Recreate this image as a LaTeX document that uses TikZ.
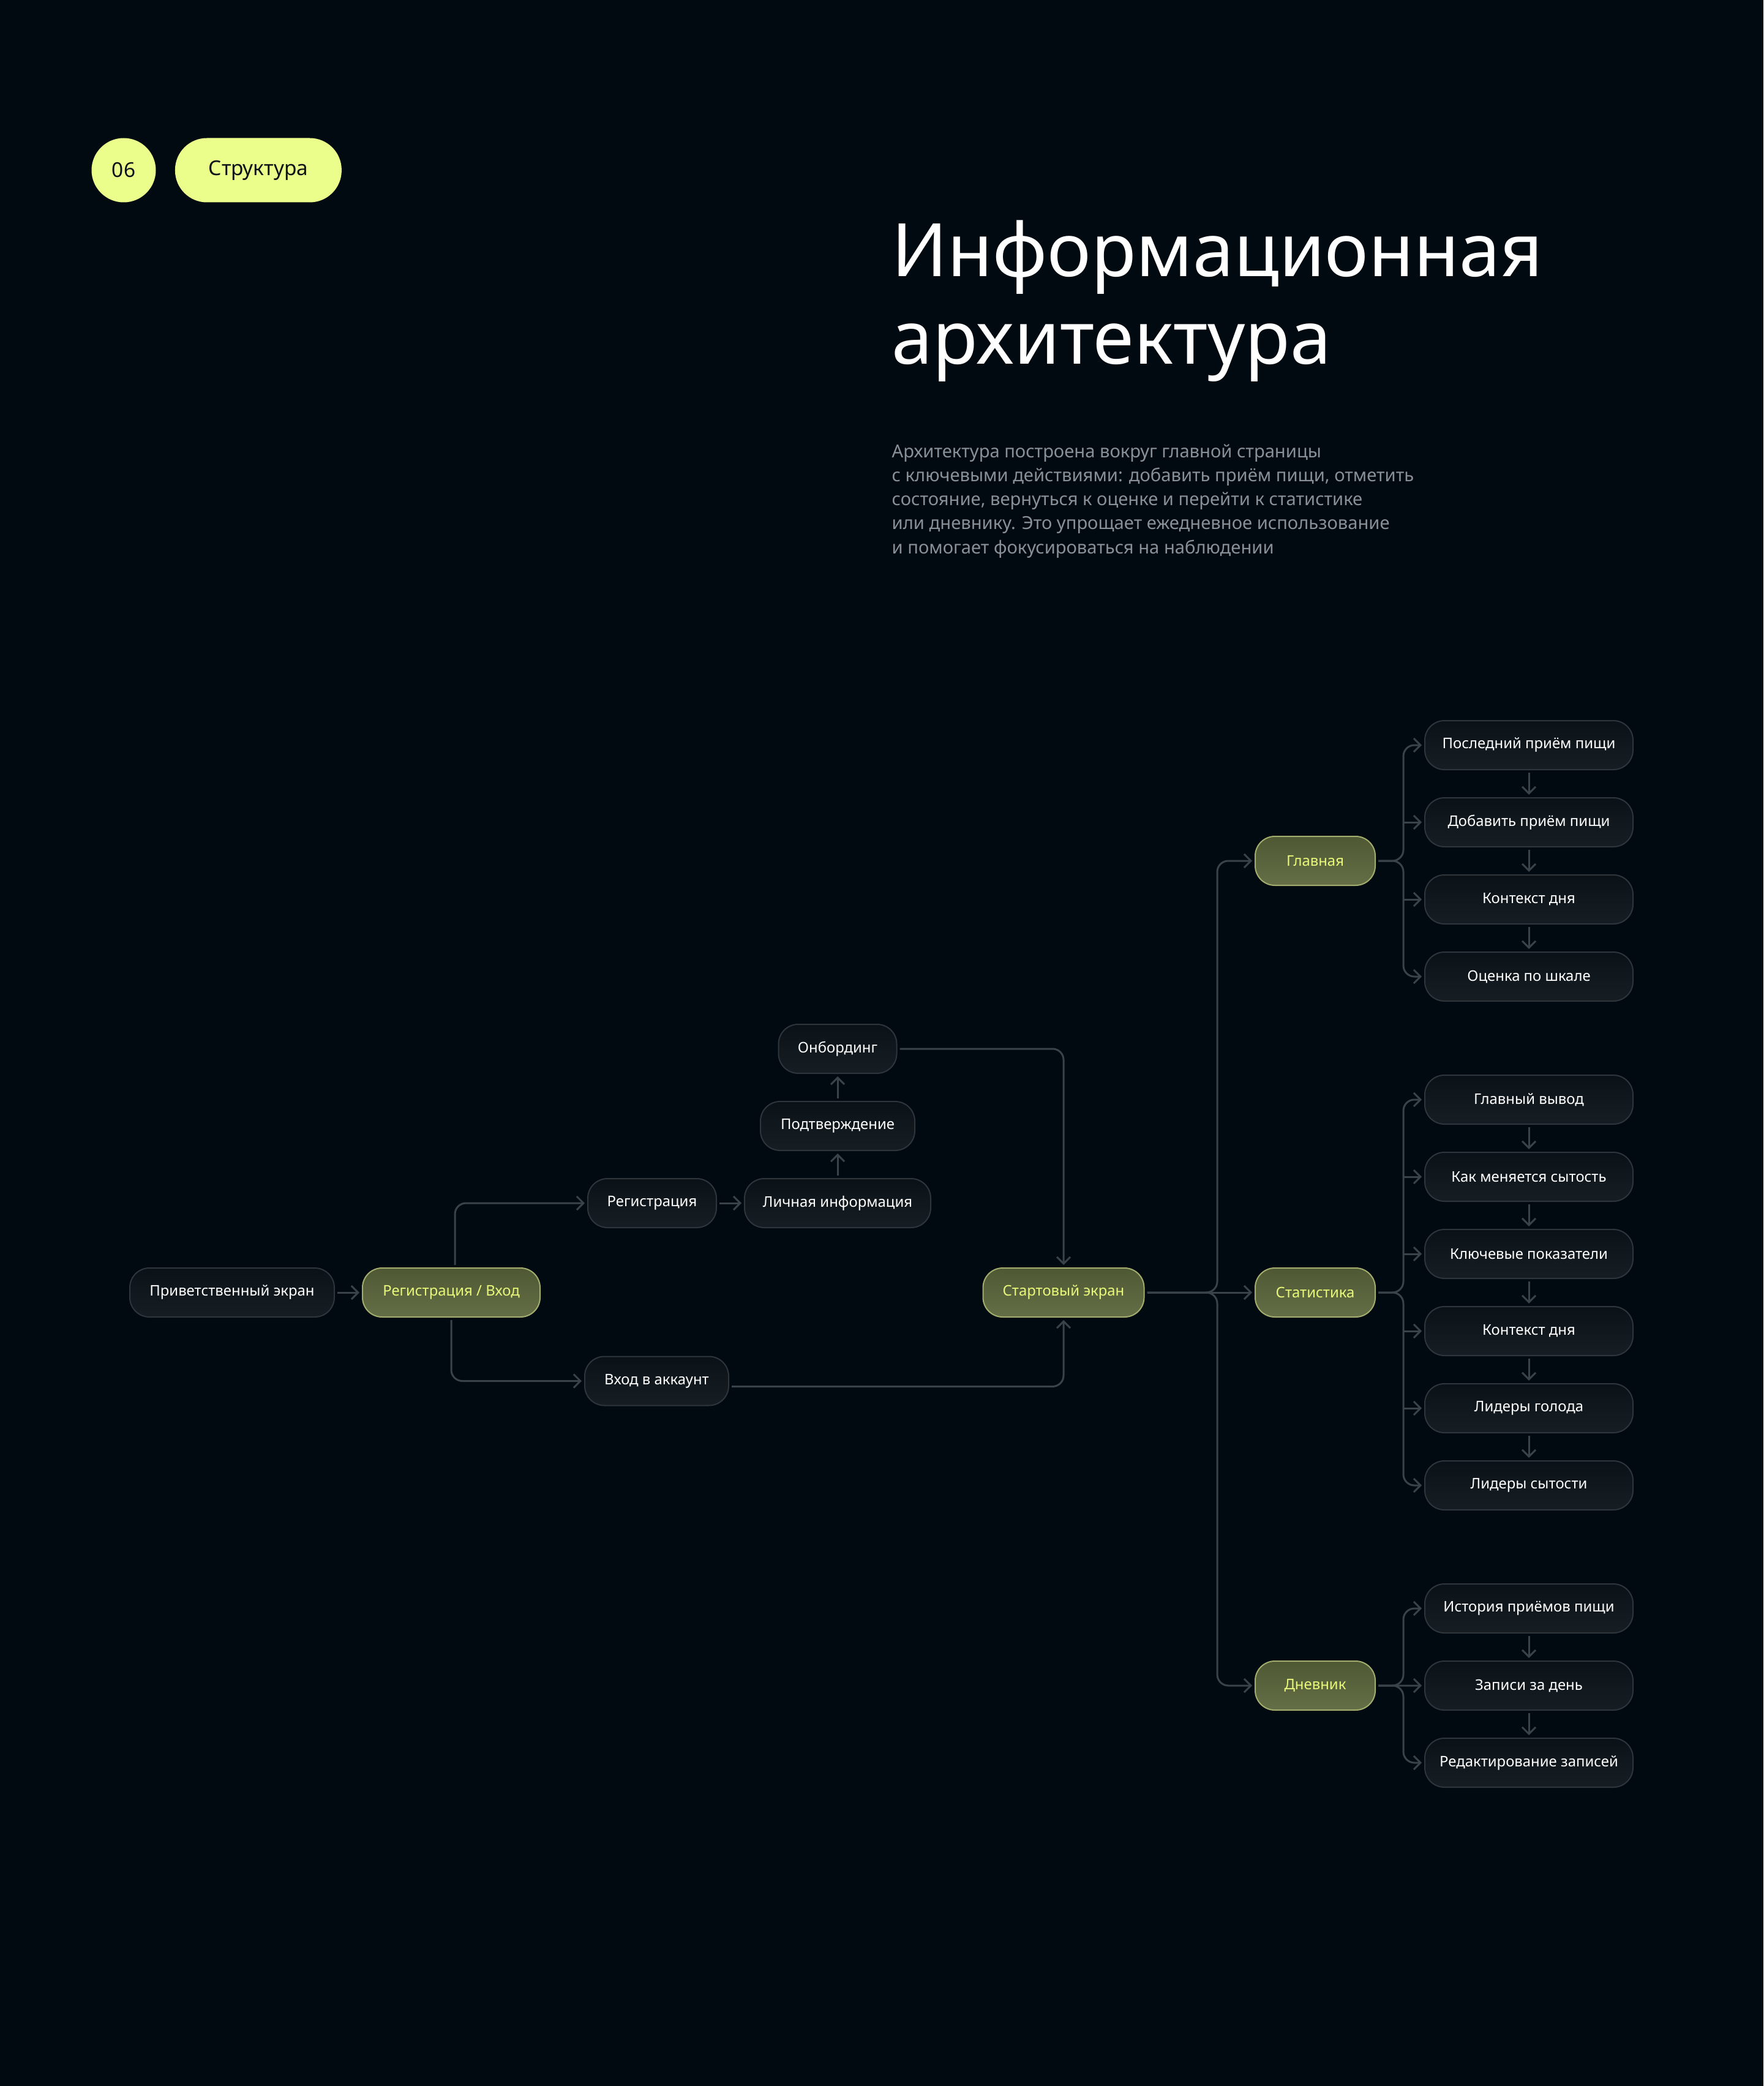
\documentclass[tikz,border=0pt]{standalone}
\usepackage{fontspec}
\setmainfont{Noto Sans}
\usepackage{tikz}
\usetikzlibrary{arrows.meta, positioning, calc}
\usepackage{xcolor}

\definecolor{bgdark}{HTML}{010A10}
\definecolor{linegray}{HTML}{3A434A}
\definecolor{nodetop}{HTML}{0B1217}
\definecolor{nodebot}{HTML}{161E24}
\definecolor{nodeline}{HTML}{2E363C}
\definecolor{olivetop}{HTML}{4E5833}
\definecolor{olivebot}{HTML}{646F47}
\definecolor{oliveline}{HTML}{A3AE6E}
\definecolor{limetext}{HTML}{E9F87A}
\definecolor{limefill}{HTML}{EBFE8B}
\definecolor{tagtext}{HTML}{0B1218}
\definecolor{greytext}{HTML}{8A9096}

\begin{document}
\begin{tikzpicture}[
    node distance=0.36cm,
    screenbox/.style={rectangle, rounded corners=0.32cm, draw=nodeline, line width=0.02cm, top color=nodetop, bottom color=nodebot, text=white, minimum height=0.8cm, inner xsep=0.15cm, inner ysep=0cm, outer sep=0.05cm, font=\fontsize{6.8}{8}\selectfont},
    mainbox/.style={screenbox, draw=oliveline, top color=olivetop, bottom color=olivebot, text=limetext},
    leafbox/.style={screenbox, minimum width=3.40cm},
    link/.style={draw=linegray, line width=0.03cm, rounded corners=0.18cm, -{Straight Barb[length=0.11cm, width=0.22cm]}},
    tag/.style={fill=limefill, text=tagtext, minimum height=1.05cm, inner sep=0pt, font=\fontsize{9.5}{11}\selectfont}
]

% background
\fill[bgdark] (0,0) rectangle (28.8,-34.07);
\useasboundingbox (0,0) rectangle (28.8,-34.07);

% === Header ===
\node[tag, circle, minimum size=1.05cm] (num) at (2.02,-2.78) {06};
\node[tag, rectangle, rounded corners=0.52cm, minimum width=2.72cm, right=0.3cm of num] (section) {Структура};

% base anchor sits on the last line
\node[anchor=base west, align=left, text=white, inner sep=0pt, font=\fontsize{34.3}{40.7}\selectfont] (title) at (14.56,-5.95) {Информационная\\архитектура};

\node[anchor=base west, align=left, text=greytext, inner sep=0pt, font=\fontsize{8.3}{11.1}\selectfont] (intro) at (14.56,-9.04) {Архитектура построена вокруг главной страницы\\с ключевыми действиями: добавить приём пищи, отметить\\состояние, вернуться к оценке и перейти к статистике\\или дневнику. Это упрощает ежедневное использование\\и помогает фокусироваться на наблюдении};

% === Entry flow ===
\node[screenbox, minimum width=3.34cm] (welcome) at (3.79,-21.11) {Приветственный экран};
\node[mainbox, minimum width=2.90cm, right=of welcome] (regvhod) {Регистрация / Вход};
\node[screenbox, minimum width=2.10cm] (reg) at (10.65,-19.65) {Регистрация};
\node[screenbox, minimum width=3.04cm, right=of reg] (lichn) {Личная информация};
\node[screenbox, minimum width=2.52cm, above=of lichn] (podtv) {Подтверждение};
\node[screenbox, minimum width=1.93cm, above=of podtv] (onb) {Онбординг};
\node[screenbox, minimum width=2.35cm] (vhod) at (10.725,-22.555) {Вход в аккаунт};
\node[mainbox, minimum width=2.63cm] (start) at (17.37,-21.11) {Стартовый экран};

\draw[link] (welcome) -- (regvhod);
\draw[link] ([xshift=0.06cm]regvhod.north) |- (reg.west);
\draw[link] (regvhod.south) |- (vhod.west);
\draw[link] (reg) -- (lichn);
\draw[link] (lichn) -- (podtv);
\draw[link] (podtv) -- (onb);
\draw[link] (onb.east) -| (start.north);
\draw[link] ([yshift=-0.09cm]vhod.east) -| (start.south);

% === Sections ===
\node[mainbox, minimum width=1.96cm] (glav) at (21.48,-14.06) {Главная};
\node[mainbox, minimum width=1.96cm] (stat) at (21.48,-21.11) {Статистика};
\node[mainbox, minimum width=1.96cm] (dnev) at (21.48,-27.53) {Дневник};

\draw[link] (start.east) -| ([xshift=-0.57cm]glav.west) -- (glav.west);
\draw[link] (start) -- (stat);
\draw[link] (start.east) -| ([xshift=-0.57cm]dnev.west) -- (dnev.west);

% Главная
\node[leafbox] (g1) at (24.97,-12.17) {Последний приём пищи};
\node[leafbox, below=of g1] (g2) {Добавить приём пищи};
\node[leafbox, below=of g2] (g3) {Контекст дня};
\node[leafbox, below=of g3] (g4) {Оценка по шкале};

% Статистика
\node[leafbox] (s1) at (24.97,-17.96) {Главный вывод};
\node[leafbox, below=of s1] (s2) {Как меняется сытость};
\node[leafbox, below=of s2] (s3) {Ключевые показатели};
\node[leafbox, below=of s3] (s4) {Контекст дня};
\node[leafbox, below=of s4] (s5) {Лидеры голода};
\node[leafbox, below=of s5] (s6) {Лидеры сытости};

% Дневник
\node[leafbox] (d1) at (24.97,-26.27) {История приёмов пищи};
\node[leafbox, below=of d1] (d2) {Записи за день};
\node[leafbox, below=of d2] (d3) {Редактирование записей};

\draw[link] (glav.east) -| ([xshift=-0.3cm]g1.west) -- (g1.west);
\draw[link] (glav.east) -| ([xshift=-0.3cm]g4.west) -- (g4.west);
\draw[link] (stat.east) -| ([xshift=-0.3cm]s1.west) -- (s1.west);
\draw[link] (stat.east) -| ([xshift=-0.3cm]s6.west) -- (s6.west);
\draw[link] (dnev.east) -| ([xshift=-0.3cm]d1.west) -- (d1.west);
\draw[link] (dnev.east) -| ([xshift=-0.3cm]d3.west) -- (d3.west);
\draw[link] (dnev) -- (d2);

\foreach \n in {g2,g3,s2,s3,s4,s5}
    \draw[link] ([xshift=-0.3cm]\n.west) -- (\n.west);

\foreach \a/\b in {g1/g2,g2/g3,g3/g4,s1/s2,s2/s3,s3/s4,s4/s5,s5/s6,d1/d2,d2/d3}
    \draw[link] (\a) -- (\b);

\end{tikzpicture}
\end{document}
